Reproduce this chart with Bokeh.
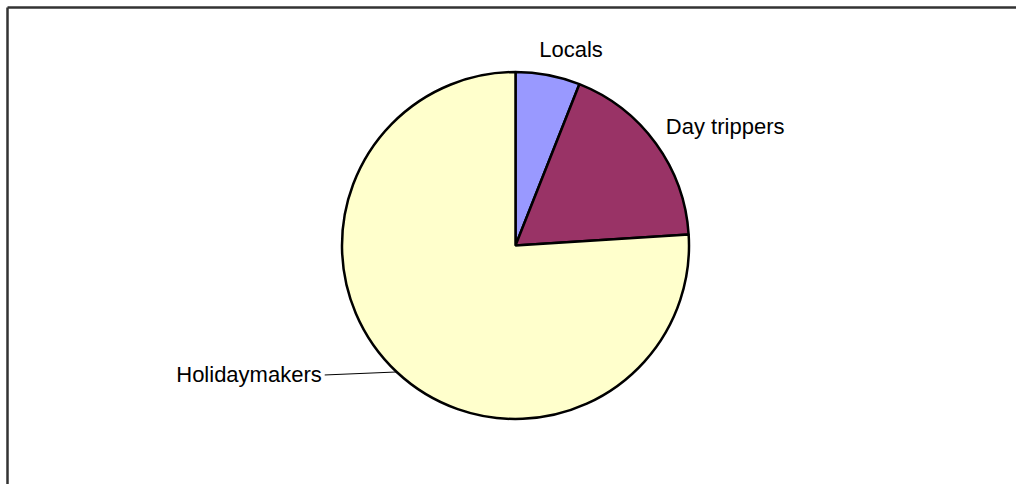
import math
from bokeh.plotting import figure
from bokeh.models import ColumnDataSource
from bokeh.core.properties import value
from bokeh.embed import file_html
from bokeh.resources import INLINE

# ---- data ----
categories = ["Locals", "Day trippers", "Holidaymakers"]
shares = [6, 18, 76]
colors = ["#9999FF", "#993366", "#FFFFCC"]

# ---- layout / style ----
W, H = 1016, 484
cx, cy = 515, H - 245
R = 173.5
# label placement relative to slice edge anchor (px): dx, dy(up), align
label_dx = [23, 10, -75]
label_dy = [26, 17, -3]
label_align = ["center", "left", "right"]
leader = [False, False, True]

p = figure(width=W, height=H, x_range=(0, W), y_range=(0, H), min_border=0,
           toolbar_location=None, output_backend="svg")
p.axis.visible = False
p.grid.visible = False
p.outline_line_color = None
p.background_fill_color = "white"
p.border_fill_color = "white"

total = float(sum(shares))
starts, ends, mids = [], [], []
a = math.pi / 2
for s in shares:
    span = s / total * 2 * math.pi
    starts.append(a)
    ends.append(a - span)
    mids.append(a - span / 2)
    a -= span

src = ColumnDataSource(dict(start=starts, end=ends, color=colors))
p.wedge(x=cx, y=cy, radius=R, start_angle="start", end_angle="end",
        direction="clock", fill_color="color", line_color="black",
        line_width=2.5, source=src)

tx, ty, lx0, ly0, lx1, ly1 = [], [], [], [], [], []
for i, m in enumerate(mids):
    ax = cx + R * math.cos(m)
    ay = cy + R * math.sin(m)
    x = ax + label_dx[i]
    y = ay + label_dy[i]
    tx.append(x)
    ty.append(y)
    if leader[i]:
        lx0.append(x + 3)
        ly0.append(y)
        lx1.append(ax)
        ly1.append(ay)

for i, c in enumerate(categories):
    p.text(x=[tx[i]], y=[ty[i]], text=[c], text_align=label_align[i],
           text_baseline="middle", text_font=value("Liberation Sans"),
           text_font_size="22px", text_color="black")

p.segment(x0=lx0, y0=ly0, x1=lx1, y1=ly1, line_color="black", line_width=1)

# chart area frame (top and left edges visible)
p.segment(x0=[7, 7], y0=[H - 7, H - 7], x1=[W + 20, 7], y1=[H - 7, -20],
          line_color="#333333", line_width=2.5)

open("out.html", "w").write(file_html(p, INLINE))
